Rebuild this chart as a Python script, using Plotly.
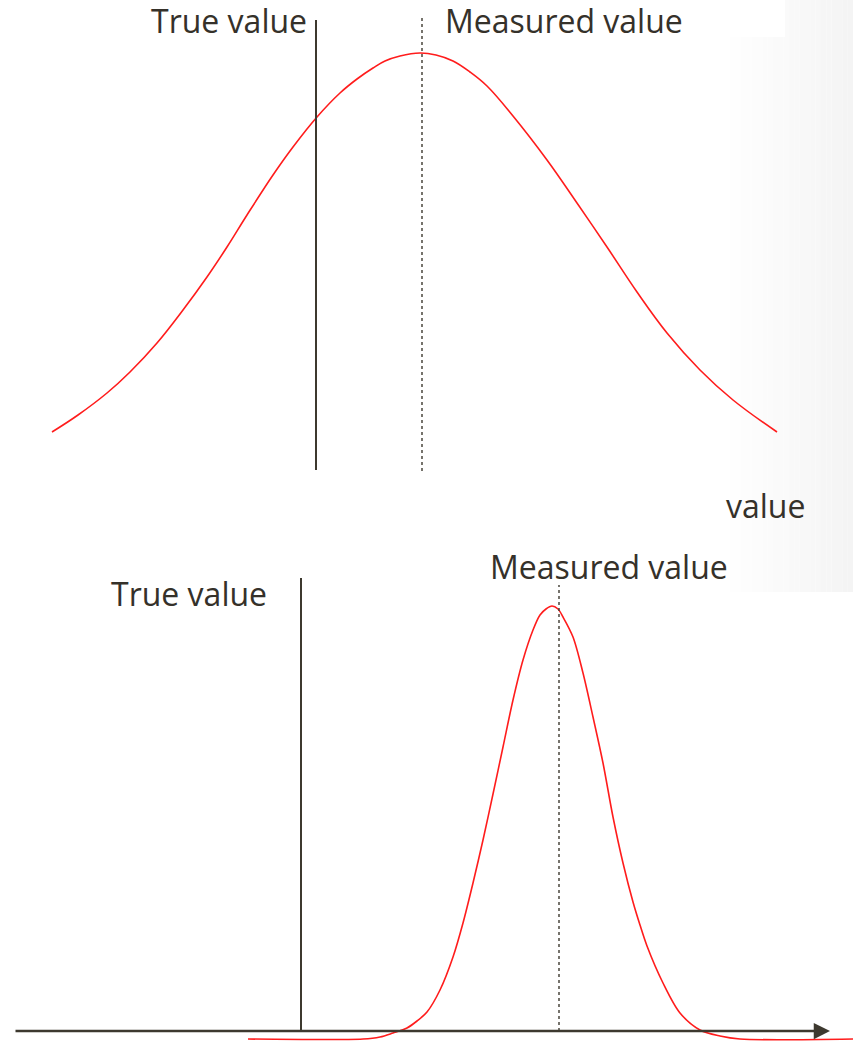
import plotly.graph_objects as go

# ---------------- data ----------------
# Top panel: broad distribution (value units)
top_x = [5.2, 7.8, 10.7, 13.0, 15.7, 18.3, 20.7, 22.7, 24.7, 27.3, 29.3, 31.7, 34.0, 35.7,
         37.3, 38.5, 40.0, 42.0, 43.6, 45.3, 47.0, 48.7, 51.3, 54.7, 57.7, 60.7, 63.7,
         66.7, 70.0, 73.3, 77.7]
top_y = [3.8, 5.5, 7.7, 9.8, 12.7, 16.0, 19.3, 22.3, 25.5, 29.5, 32.3, 35.3, 37.7, 39.1,
         40.2, 40.9, 41.4, 41.7, 41.5, 40.9, 39.8, 38.4, 35.4, 31.0, 26.7, 22.3, 17.8,
         13.7, 10.0, 7.0, 3.8]

# Bottom panel: narrow distribution
bot_x = [24.8, 36.3, 38.0, 39.3, 40.7, 41.7, 42.7, 44.0, 45.3, 46.3, 47.3, 48.3, 49.3, 50.3,
         51.3, 52.3, 53.3, 54.0, 54.6, 55.2, 55.8, 56.3, 57.3, 58.3, 59.3, 60.3, 61.3, 62.3,
         63.3, 64.0, 64.7, 66.3, 68.0, 70.0, 72.0, 74.0, 85.3]
bot_y = [-0.8, -0.8, -0.6, -0.2, 0.3, 1.0, 1.9, 4.1, 7.4, 10.8, 14.8, 19.1, 23.7, 28.4,
         33.1, 37.1, 40.1, 41.6, 42.2, 42.5, 42.2, 41.4, 39.4, 35.8, 31.4, 26.8, 21.4, 16.8,
         12.9, 10.6, 8.5, 4.8, 1.8, 0.1, -0.5, -0.8, -0.8]

top_true_value = 31.6
top_measured_value = 42.2
bot_true_value = 30.1
bot_measured_value = 55.9

top_true_span = [0.0, 45.0]
top_meas_span = [-0.1, 45.2]
bot_true_span = [0.0, 45.3]
bot_meas_span = [0.0, 44.6]

axis_start = 1.4
axis_end = 83.0

labels = {
    "true": "True value",
    "measured": "Measured value",
    "axis": "value",
}

# ---------------- styling ----------------
W, H = 853, 1045
RED = "rgb(255,28,28)"
DARK = "#3d392f"
TEXT = "#35312a"
FONT = "Open Sans"

fig = go.Figure()

# curves
fig.add_trace(go.Scatter(x=top_x, y=top_y, mode="lines",
                         line=dict(color=RED, width=1.6, shape="spline", smoothing=1.1),
                         xaxis="x", yaxis="y", hoverinfo="skip"))
fig.add_trace(go.Scatter(x=bot_x, y=bot_y, mode="lines",
                         line=dict(color=RED, width=1.6, shape="spline", smoothing=0.9),
                         xaxis="x2", yaxis="y2", hoverinfo="skip"))

# true value (solid) and measured value (dotted) lines
fig.add_trace(go.Scatter(x=[top_true_value] * 2, y=top_true_span, mode="lines",
                         line=dict(color=DARK, width=2), xaxis="x", yaxis="y", hoverinfo="skip"))
fig.add_trace(go.Scatter(x=[top_measured_value] * 2, y=top_meas_span, mode="lines",
                         line=dict(color=DARK, width=1.4, dash="dot"), xaxis="x", yaxis="y", hoverinfo="skip"))
fig.add_trace(go.Scatter(x=[bot_true_value] * 2, y=bot_true_span, mode="lines",
                         line=dict(color=DARK, width=2), xaxis="x2", yaxis="y2", hoverinfo="skip"))
fig.add_trace(go.Scatter(x=[bot_measured_value] * 2, y=bot_meas_span, mode="lines",
                         line=dict(color=DARK, width=1.4, dash="dot"), xaxis="x2", yaxis="y2", hoverinfo="skip"))

# faint background shading at the right edge (slide background)
shapes = []
n = 24
x0p, x1p = 725, 853
for i in range(n):
    a = (i + 1) / n
    g = int(round(255 - 11 * a))
    shapes.append(dict(type="rect", xref="paper", yref="paper",
                       x0=(x0p + (x1p - x0p) * i / n) / W, x1=(x0p + (x1p - x0p) * (i + 1) / n) / W,
                       y0=1 - 592 / H, y1=1, line=dict(width=0),
                       fillcolor=f"rgb({g},{g},{g})", layer="below"))
# white text box behind the top "Measured value"
shapes.append(dict(type="rect", xref="paper", yref="paper", x0=440 / W, x1=785 / W,
                   y0=1 - 37 / H, y1=1, line=dict(width=0), fillcolor="white", layer="below"))

annotations = []


def label(text, cx, cy):
    annotations.append(dict(text=text, xref="paper", yref="paper", x=cx / W, y=1 - cy / H,
                            xanchor="center", yanchor="middle", showarrow=False,
                            font=dict(family=FONT, size=32, color=TEXT)))


label(labels["true"], 229, 21)
label(labels["measured"], 564, 21)
label(labels["axis"], 765, 506)
label(labels["measured"], 609, 566)
label(labels["true"], 189, 593)

# horizontal value axis with arrow
annotations.append(dict(x=axis_end, y=0, ax=axis_start, ay=0, xref="x2", yref="y2",
                        axref="x2", ayref="y2", text="", showarrow=True,
                        arrowhead=2, arrowsize=1.25, arrowwidth=2.6, arrowcolor=DARK))

hidden = dict(visible=False, fixedrange=True)
fig.update_layout(
    width=W, height=H,
    margin=dict(l=0, r=0, t=0, b=0),
    paper_bgcolor="white", plot_bgcolor="rgba(0,0,0,0)",
    showlegend=False,
    xaxis=dict(domain=[0, 1], range=[0, 85.3], anchor="y", **hidden),
    yaxis=dict(domain=[1 - 480 / H, 1], range=[-1.0, 47.0], anchor="x", **hidden),
    xaxis2=dict(domain=[0, 1], range=[0, 85.3], anchor="y2", **hidden),
    yaxis2=dict(domain=[0, 1 - 545 / H], range=[-1.4, 48.6], anchor="x2", **hidden),
    shapes=shapes,
    annotations=annotations,
)

fig.write_html("out.html", config={"displayModeBar": False, "staticPlot": True},
               post_script="document.body.style.margin='0px';")
